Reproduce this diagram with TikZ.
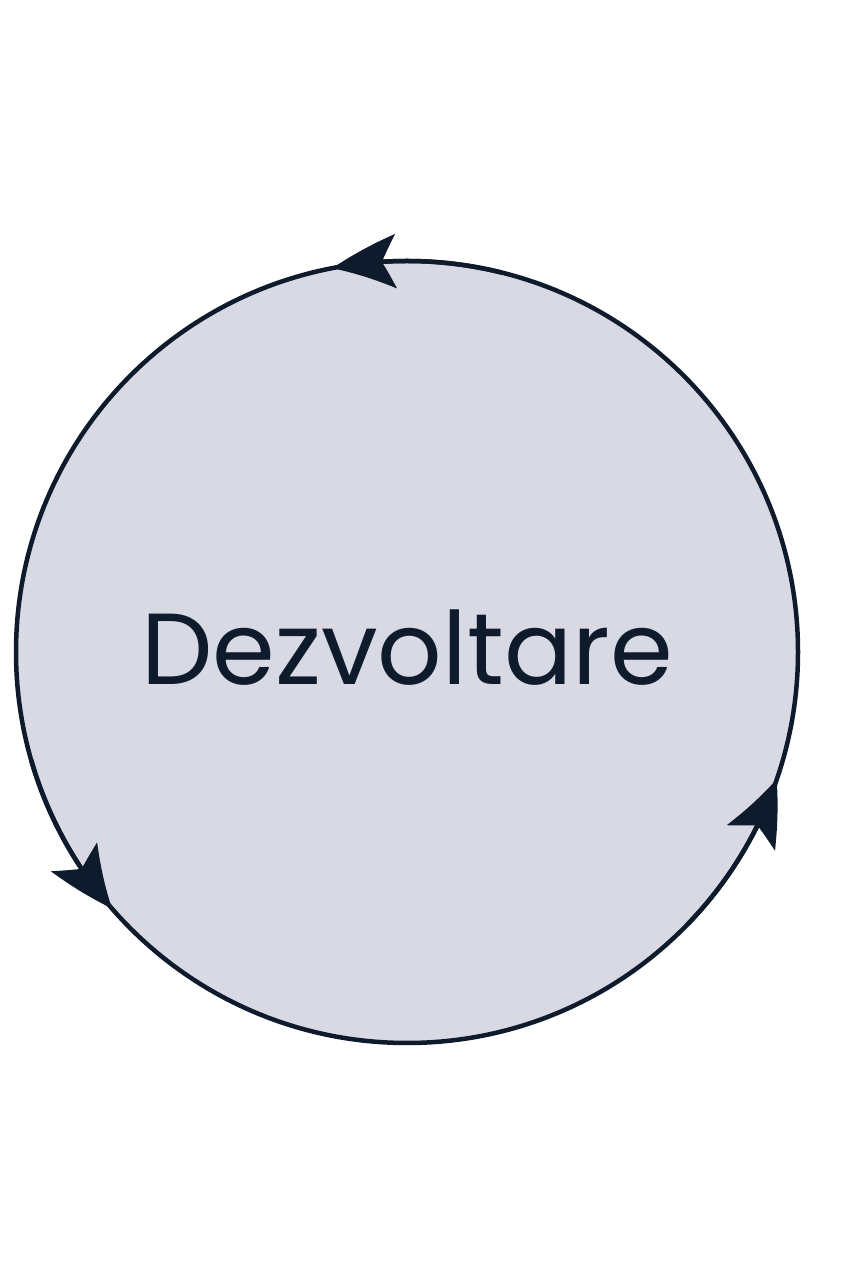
\documentclass[tikz,border=0pt]{standalone}
\usepackage{fontspec}
\setmainfont{Poppins}
\usepackage{xcolor}
\usetikzlibrary{arrows.meta, bending}
\definecolor{cycfill}{HTML}{D9D9E3}
\definecolor{cycline}{HTML}{0E1B2C}

\begin{document}
\begin{tikzpicture}[
		cyc/.style={
			circle,
			draw=cycline,
			fill=cycfill,
			line width=4.5pt,
			inner sep=0pt,
			outer sep=0pt,
			minimum size=782pt},
		cycarrow/.style={
			draw=cycline,
			line width=4.5pt,
			-{Stealth[length=64pt, width=54pt, inset=14pt, bend]}}
		]
		\useasboundingbox (0,0) rectangle (842pt,1264pt);
		\node[cyc] (dev) at (407pt, 612pt) {};
		\node[text=cycline, font=\fontsize{101}{120}\selectfont, yshift=4pt] (lbl) at (dev.center) {Dezvoltare};
		\foreach \a [evaluate=\a as \s using int(\a-25)] in {101, 221, 341}
		\draw[cycarrow] (dev.\s) arc[start angle=\s, end angle=\a, radius=391pt];
		\end{tikzpicture}
\end{document}
